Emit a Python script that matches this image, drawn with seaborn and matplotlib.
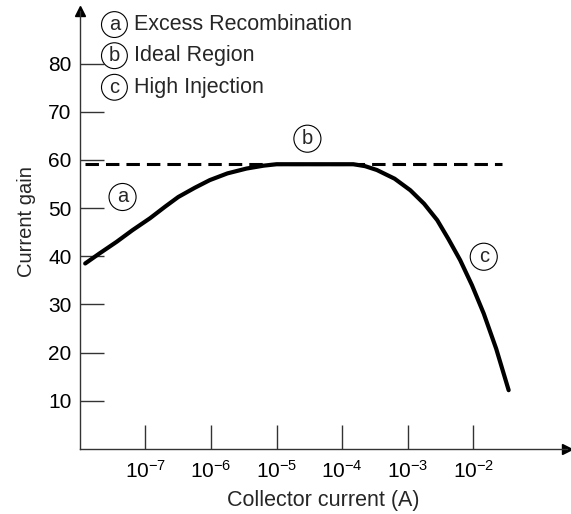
import numpy as np
import pandas as pd
import matplotlib
matplotlib.use("Agg")
import matplotlib.pyplot as plt
import seaborn as sns

# Collector current (A), as log10 exponents, and common-emitter current gain
log_ic = [-7.92, -7.70, -7.44, -7.20, -6.93, -6.70, -6.50, -6.25, -6.02,
          -5.75, -5.46, -5.20, -5.00, -4.50, -4.00, -3.83, -3.65, -3.47,
          -3.20, -2.96, -2.75, -2.55, -2.38, -2.20, -2.02, -1.84, -1.65, -1.46]
gain = [38.5, 40.6, 43.0, 45.4, 47.9, 50.3, 52.3, 54.2, 55.8,
        57.2, 58.2, 58.8, 59.1, 59.1, 59.1, 59.1, 58.7, 57.9,
        56.1, 53.7, 50.9, 47.5, 43.6, 39.2, 34.0, 28.1, 20.8, 12.2]

ideal_gain = 59.1
ideal_span = [-7.92, -1.56]

xtick_exp = [-7, -6, -5, -4, -3, -2]
ytick_vals = [10, 20, 30, 40, 50, 60, 70, 80]

region_labels = ["a", "b", "c"]
region_names = ["Excess Recombination", "Ideal Region", "High Injection"]
region_pos_log = [-7.35, -4.53, -1.84]
region_pos_gain = [52.3, 64.4, 39.9]

sns.set_theme(style="white")
plt.rcParams["font.family"] = ["Liberation Sans", "DejaVu Sans"]
plt.rcParams["mathtext.fontset"] = "custom"
plt.rcParams["mathtext.rm"] = "Liberation Sans"
plt.rcParams["mathtext.it"] = "Liberation Sans"

fig = plt.figure(figsize=(5.71, 5.14), dpi=100)
ax = fig.add_axes([0.140, 0.1265, 0.853, 0.853])

df = pd.DataFrame({"ic": 10.0 ** np.array(log_ic), "gain": gain})
sns.lineplot(data=df, x="ic", y="gain", ax=ax, color="black", lw=3.0,
             sort=False, estimator=None)

ax.plot(10.0 ** np.array(ideal_span), [ideal_gain, ideal_gain], color="black",
        lw=2.2, dashes=(4.4, 2.3))

ax.set_xscale("log")
ax.set_xlim(1e-8, 10 ** -0.57)
ax.set_ylim(0, 91)

ax.set_xticks([10.0 ** e for e in xtick_exp])
ax.set_xticklabels([rf"$10^{{{e}}}$" for e in xtick_exp])
ax.xaxis.set_minor_locator(matplotlib.ticker.NullLocator())
ax.set_yticks(ytick_vals)

ax.tick_params(axis="both", which="major", direction="in", length=17,
               width=1.0, color="#333333", labelsize=15, labelcolor="black",
               bottom=True, left=True)
ax.tick_params(axis="y", pad=6)
ax.tick_params(axis="x", pad=8)

for side in ["top", "right"]:
    ax.spines[side].set_visible(False)
for side in ["left", "bottom"]:
    ax.spines[side].set_color("#333333")
    ax.spines[side].set_linewidth(1.0)

# arrow heads at the ends of the axes
ax.plot(1, 0, ">", color="black", markersize=7, transform=ax.transAxes, clip_on=False)
ax.plot(0, 1, "^", color="black", markersize=7, transform=ax.transAxes, clip_on=False)

ax.set_xlabel("Collector current (A)", fontsize=15.5, labelpad=6)
ax.set_ylabel("Current gain", fontsize=14.5)
ax.yaxis.set_label_coords(-0.091, 0.519)

circ = dict(boxstyle="circle,pad=0.2", fc="white", ec="black", lw=0.8)
for lab, lx, ly in zip(region_labels, region_pos_log, region_pos_gain):
    ax.text(10.0 ** lx, ly, lab, fontsize=14.5, ha="center", va="center",
            bbox=circ)

key_y = [0.968, 0.897, 0.825]
for lab, name, yy in zip(region_labels, region_names, key_y):
    ax.text(0.0708, yy, lab, transform=ax.transAxes, fontsize=14.5,
            ha="center", va="center",
            bbox=dict(boxstyle="circle,pad=0.17", fc="white", ec="black",
                      lw=0.8))
    ax.text(0.1115, yy, name, transform=ax.transAxes, fontsize=15.5,
            ha="left", va="center")

fig.savefig("out.png", dpi=100)
